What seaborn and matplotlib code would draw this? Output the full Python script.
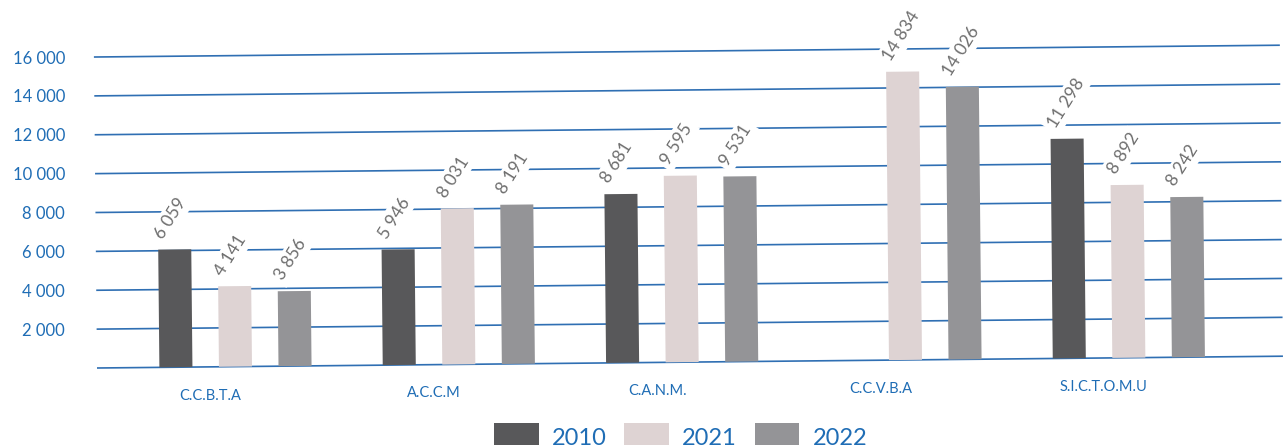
import numpy as np
import pandas as pd
import matplotlib
matplotlib.use("Agg")
import matplotlib.pyplot as plt
from matplotlib.transforms import Affine2D
import seaborn as sns

# values
categories = ['C.C.B.T.A', 'A.C.C.M', 'C.A.N.M.', 'C.C.V.B.A', 'S.I.C.T.O.M.U']
years = ['2010', '2021', '2022']
v2010 = [6059, 5946, 8681, np.nan, 11298]
v2021 = [4141, 8031, 9595, 14834, 8892]
v2022 = [3856, 8191, 9531, 14026, 8242]
yticks = [2000, 4000, 6000, 8000, 10000, 12000, 14000, 16000]

colors = {'2010': '#58585a', '2021': '#e0d1d1', '2022': '#949497'}
blue = '#1f6db5'
grid_blue = '#2f6fb3'

sns.set_style('white')
plt.rcParams['font.family'] = ['Lato', 'DejaVu Sans']

df = pd.DataFrame({
    'cat': categories * 3,
    'year': [y for y in years for _ in categories],
    'value': v2010 + v2021 + v2022,
})

W, H = 1283, 445
fig = plt.figure(figsize=(W / 100, H / 100), dpi=100)
ax = fig.add_axes([97 / W, 77 / H, 1 - 97 / W, (368 - 57) / H])

sns.barplot(data=df, x='cat', y='value', hue='year', hue_order=years,
            palette=colors, gap=0.445, linewidth=0, ax=ax)

xmin, xmax = -0.62, 4.69
ax.set_xlim(xmin, xmax)
ax.set_ylim(0, 16000)

# the whole picture is slightly tilted: rotate data artists around the axes corner
rot = Affine2D().rotate_deg_around(97, 77, 0.57)
tr = ax.transData + rot

# grid lines, drawn under the bars
lines = ax.hlines([0] + yticks, xmin, xmax, colors=grid_blue, linewidth=1.2, zorder=0)
lines.set_transform(tr)
lines.set_clip_on(False)

for p in ax.patches:
    p.set_transform(tr)
    p.set_clip_on(False)
    p.set_zorder(2)

# value labels
for p in ax.patches:
    h = p.get_height()
    if not np.isfinite(h) or h <= 0:
        continue
    xc = p.get_x() + p.get_width() / 2
    txt = f'{int(round(h)):,}'.replace(',', ' ')
    ax.annotate(txt, xy=(xc, h), xycoords=tr, xytext=(-9, 8),
                textcoords='offset pixels', rotation=58, rotation_mode='anchor',
                ha='left', va='bottom', fontsize=12.5, color='#6e6e6e',
                bbox=dict(facecolor='white', edgecolor='none', pad=2.5),
                annotation_clip=False, zorder=3)

# category labels under the baseline
ax.set_xticks([])
for i, c in enumerate(categories):
    ax.annotate(c, xy=(i, 0), xycoords=tr, xytext=(-25, -29),
                textcoords='offset pixels', ha='center', va='center',
                fontsize=10.5, color=blue, annotation_clip=False)

ax.set_yticks(yticks)
ax.set_yticklabels([f'{v:,}'.replace(',', ' ') for v in yticks],
                   fontsize=12, color=blue)
ax.tick_params(axis='y', length=0, pad=23)
ax.set_xlabel('')
ax.set_ylabel('')
for s in ax.spines.values():
    s.set_visible(False)

handles, labels = ax.get_legend_handles_labels()
ax.legend_.remove()
fig.legend(handles, labels, loc='upper center', bbox_to_anchor=(680.5 / W, 34 / H),
           ncol=3, frameon=False, fontsize=17, labelcolor=blue, borderpad=0,
           handlelength=1.9, handleheight=1.5, handletextpad=0.55, columnspacing=0.75)

fig.savefig('out.png', dpi=100)
